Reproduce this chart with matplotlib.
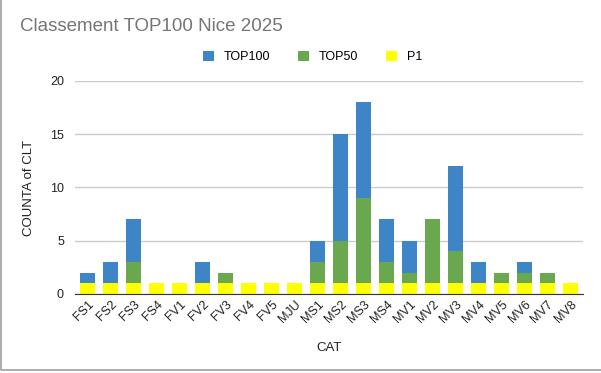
import numpy as np
import matplotlib
matplotlib.use("Agg")
import matplotlib.pyplot as plt
from matplotlib.lines import Line2D

plt.rcParams['font.family'] = ['Liberation Sans', 'DejaVu Sans']

cats = ["FS1", "FS2", "FS3", "FS4", "FV1", "FV2", "FV3", "FV4", "FV5", "MJU", "MS1",
        "MS2", "MS3", "MS4", "MV1", "MV2", "MV3", "MV4", "MV5", "MV6", "MV7", "MV8"]
p1 = [1, 1, 1, 1, 1, 1, 1, 1, 1, 1, 1, 1, 1, 1, 1, 1, 1, 1, 1, 1, 1, 1]
top50 = [0, 0, 2, 0, 0, 0, 1, 0, 0, 0, 2, 4, 8, 2, 1, 6, 3, 0, 1, 1, 1, 0]
top100 = [1, 2, 4, 0, 0, 2, 0, 0, 0, 0, 2, 10, 9, 4, 3, 0, 8, 2, 0, 1, 0, 0]

c_top100 = "#3d85c6"
c_top50 = "#6aa84f"
c_p1 = "#ffff00"

fig = plt.figure(figsize=(6.01, 3.73), dpi=100)
ax = fig.add_axes([0.1248, 0.2118, 0.8452, 0.5712])

x = np.arange(len(cats))
p1 = np.array(p1)
top50 = np.array(top50)
top100 = np.array(top100)
w = 0.66
ax.bar(x, p1, w, color=c_p1, label="P1", zorder=3)
ax.bar(x, top50, w, bottom=p1, color=c_top50, label="TOP50", zorder=3)
ax.bar(x, top100, w, bottom=p1 + top50, color=c_top100, label="TOP100", zorder=3)

ax.set_xlim(-0.55, len(cats) - 0.45)
ax.set_ylim(0, 20)
ax.set_yticks([0, 5, 10, 15, 20])
ax.grid(axis='y', color="#cccccc", linewidth=1, zorder=0)
for s in ["top", "right", "left"]:
    ax.spines[s].set_visible(False)
ax.spines["bottom"].set_color("#333333")
ax.spines["bottom"].set_zorder(4)
ax.tick_params(axis='both', length=0, labelsize=9, colors="#222222")
ax.tick_params(axis='y', pad=8)
ax.set_xticks(x)
ax.set_xticklabels(cats, rotation=45, ha='right', rotation_mode='anchor')
ax.set_xlabel("CAT", fontsize=9.5, color="#222222", labelpad=12)
ax.set_ylabel("COUNTA of CLT", fontsize=9.5, color="#222222", labelpad=11)

fig.text(0.033, 0.93, "Classement TOP100 Nice 2025", fontsize=13.5, color="#757575", va='center')

handles, labels = ax.get_legend_handles_labels()
order = [2, 1, 0]
fig.legend([handles[i] for i in order], [labels[i] for i in order],
           loc='center', bbox_to_anchor=(0.52, 0.847), ncol=3, frameon=False,
           fontsize=9, handlelength=0.9, handleheight=0.9, columnspacing=2.2,
           handletextpad=0.8)

# grey frame on the left and bottom edges
fig.lines.append(Line2D([0.001, 0.001, 1.0], [1.0, 0.008, 0.008], transform=fig.transFigure,
                        color="#9e9e9e", linewidth=1.2))

fig.savefig("out.png", dpi=100, facecolor="white")
